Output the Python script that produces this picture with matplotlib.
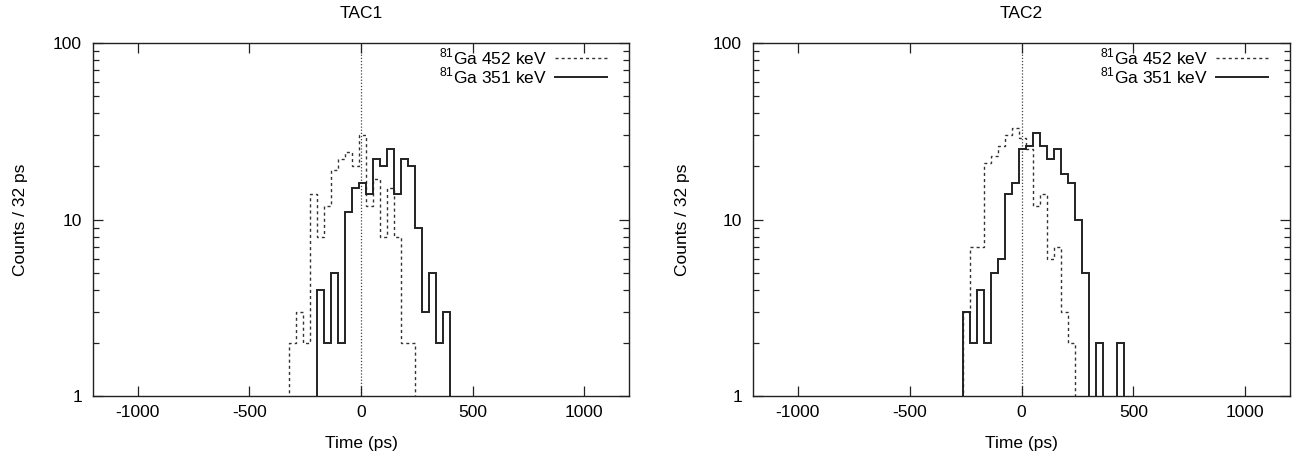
import numpy as np
import matplotlib
matplotlib.use("Agg")
import matplotlib.pyplot as plt
from matplotlib.ticker import FixedLocator, NullFormatter, FixedFormatter

# ---- data -------------------------------------------------------------
bin_width = 31.3          # ps per histogram bin
first_edge = -322.4       # lower edge of bin index 0 (ps)

tac1_452_start = 0
tac1_452 = [2, 3, 2, 14, 8, 12, 19, 22, 24, 20, 30, 12, 17, 8, 15, 8, 2, 2]
tac1_351_start = 4
tac1_351 = [4, 2, 5, 2, 11, 15, 16, 14, 22, 20, 25, 14, 22, 20, 9, 3, 5, 2, 3]

tac2_452_start = 2
tac2_452 = [3, 7, 7, 21, 23, 26, 30, 33, 29, 25, 12, 14, 6, 7, 3, 2]
tac2_351_start = 2
tac2_351 = [3, 2, 4, 2, 5, 6, 14, 16, 25, 26, 31, 26, 22, 25, 18, 16, 10, 5,
            0, 2, 0, 0, 2]

titles = ["TAC1", "TAC2"]
label_452 = r"$^{81}$Ga 452 keV"
label_351 = r"$^{81}$Ga 351 keV"
x_ticks = [-1000, -500, 0, 500, 1000]
y_ticks = [1, 10, 100]
y_tick_labels = ["1", "10", "100"]

# ---- style -----------------------------------------------------------
plt.rcParams["font.family"] = ["Liberation Sans", "DejaVu Sans"]
plt.rcParams["mathtext.fontset"] = "custom"
plt.rcParams["mathtext.rm"] = "Liberation Sans"
FS = 12.5

W, H = 1300, 459
fig = plt.figure(figsize=(W / 100, H / 100), dpi=100)
ax_top, ax_bot = 43, 396
axes_px = [(93, 629), (753, 1290)]
ylabel_x = [-0.122, -0.118]

series = [
    ((tac1_452_start, tac1_452), (tac1_351_start, tac1_351)),
    ((tac2_452_start, tac2_452), (tac2_351_start, tac2_351)),
]


def edges_for(start, n):
    return first_edge + bin_width * (start + np.arange(n + 1))


for i, (x0, x1) in enumerate(axes_px):
    ax = fig.add_axes([x0 / W, 1 - ax_bot / H, (x1 - x0) / W, (ax_bot - ax_top) / H])
    (s452, c452), (s351, c351) = series[i]
    v452 = np.asarray(c452, float)
    v351 = np.asarray(c351, float)
    v452 = np.where(v452 > 0, v452, 0.1)
    v351 = np.where(v351 > 0, v351, 0.1)

    ax.axvline(0, color="#444444", lw=0.9, ls=(0, (1, 1.5)), zorder=1)
    ax.stairs(v452, edges_for(s452, len(c452)), baseline=0.1, color="#333333",
              lw=1.0, ls=(0, (2.2, 2.2)), label=label_452, zorder=2)
    ax.stairs(v351, edges_for(s351, len(c351)), baseline=0.1, color="#222222",
              lw=1.4, label=label_351, zorder=3)

    ax.set_yscale("log")
    ax.set_xlim(-1200, 1200)
    ax.set_ylim(1, 100)
    ax.xaxis.set_major_locator(FixedLocator(x_ticks))
    ax.set_xticklabels([str(t) for t in x_ticks])
    ax.yaxis.set_major_locator(FixedLocator(y_ticks))
    ax.yaxis.set_major_formatter(FixedFormatter(y_tick_labels))
    minors = [m * d for d in (1, 10) for m in range(2, 10)]
    ax.yaxis.set_minor_locator(FixedLocator(minors))
    ax.yaxis.set_minor_formatter(NullFormatter())
    ax.tick_params(which="both", direction="in", top=True, right=True,
                   labelsize=FS, color="#222222")
    ax.tick_params(which="major", length=7, width=0.9)
    ax.tick_params(which="minor", length=4, width=0.9)
    ax.tick_params(axis="x", pad=6.5)
    ax.tick_params(axis="y", pad=8)
    for sp in ax.spines.values():
        sp.set_linewidth(1.0)
        sp.set_color("#222222")

    ax.set_title(titles[i], fontsize=FS, pad=18)
    ax.set_xlabel("Time (ps)", fontsize=FS)
    ax.xaxis.set_label_coords(0.5, -0.112)
    ax.set_ylabel("Counts / 32 ps", fontsize=FS)
    ax.yaxis.set_label_coords(ylabel_x[i], 0.5)

    ax.legend(loc="upper right", bbox_to_anchor=(0.959, 0.99), frameon=False,
              fontsize=FS, markerfirst=False, handlelength=3.0,
              handletextpad=0.45, labelspacing=-0.1, borderpad=0.0,
              borderaxespad=0.0)

fig.savefig("out.png", dpi=100)
